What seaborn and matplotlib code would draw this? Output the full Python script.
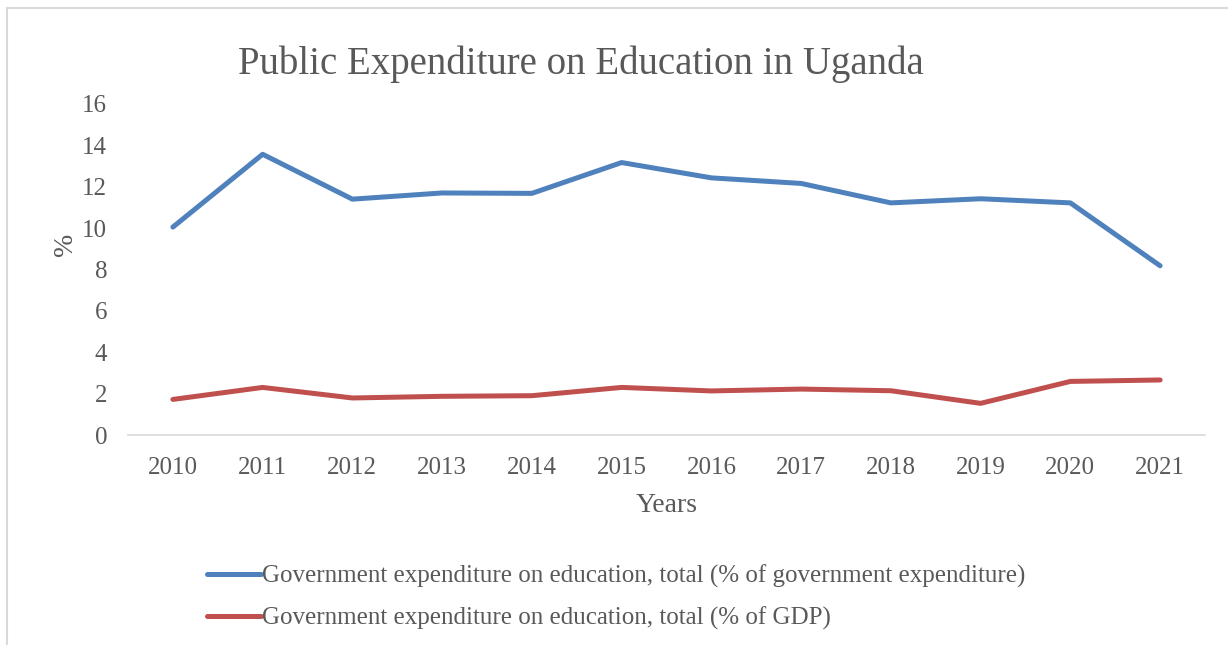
import matplotlib
matplotlib.use("Agg")
import matplotlib.pyplot as plt
import matplotlib.patches as mpatches
import seaborn as sns
import pandas as pd

years = ["2010", "2011", "2012", "2013", "2014", "2015", "2016", "2017", "2018", "2019", "2020", "2021"]
gov_exp_share = [10.05, 13.57, 11.40, 11.70, 11.68, 13.17, 12.43, 12.16, 11.22, 11.42, 11.22, 8.18]
gdp_share = [1.72, 2.30, 1.79, 1.87, 1.90, 2.30, 2.13, 2.22, 2.14, 1.53, 2.59, 2.66]
series_names = [
    "Government expenditure on education, total (% of government expenditure)",
    "Government expenditure on education, total (% of GDP)",
]
y_ticks = [0, 2, 4, 6, 8, 10, 12, 14, 16]

df = pd.DataFrame({
    "idx": list(range(len(years))) * 2,
    "value": gov_exp_share + gdp_share,
    "series": [series_names[0]] * len(years) + [series_names[1]] * len(years),
})

sns.set_theme(style="white")
plt.rcParams["font.family"] = ["Liberation Serif", "DejaVu Serif"]
gray = "#595959"

fig = plt.figure(figsize=(12.28, 6.45), dpi=100)
ax = fig.add_axes([128 / 1228, 1 - 435 / 645, (1205 - 128) / 1228, (435 - 104) / 645])

sns.lineplot(data=df, x="idx", y="value", hue="series", hue_order=series_names,
             palette=["#4F81BD", "#C0504D"], linewidth=3.6, ax=ax,
             solid_capstyle="round", legend=True)

ax.set_xlim(-0.5, len(years) - 0.5)
ax.set_ylim(0, 16)
ax.set_yticks(y_ticks)
ax.set_yticklabels([str(t) for t in y_ticks], fontsize=18, color=gray)
ax.set_xticks(range(len(years)))
ax.set_xticklabels(years, fontsize=18, color=gray)
ax.tick_params(axis="x", length=0, pad=16)
ax.tick_params(axis="y", length=0, pad=15)

for s in ["top", "right", "left"]:
    ax.spines[s].set_visible(False)
ax.spines["bottom"].set_color("#D9D9D9")
ax.spines["bottom"].set_linewidth(1.2)
ax.grid(False)

ax.set_xlabel("Years", fontsize=20, color=gray, labelpad=10)
ax.set_ylabel("%", fontsize=20, color=gray)
ax.yaxis.set_label_coords(-0.046, 0.575)

fig.text(581 / 1228, 1 - 64 / 645, "Public Expenditure on Education in Uganda",
         ha="center", va="center", fontsize=28, color=gray)

handles, labels = ax.get_legend_handles_labels()
leg = ax.legend(handles, labels, loc="upper left", bbox_to_anchor=(197 / 1228, 1 - 555 / 645),
                bbox_transform=fig.transFigure, frameon=False, fontsize=18,
                handlelength=2.15, handletextpad=0.05, labelspacing=0.72,
                labelcolor=gray, borderaxespad=0)

border = mpatches.Rectangle((7 / 1228, -0.05), 1.1, 1 - 8 / 645 + 0.05,
                            transform=fig.transFigure, fill=False,
                            edgecolor="#D9D9D9", linewidth=1.5, clip_on=False)
fig.patches.append(border)

fig.savefig("out.png", dpi=100)
